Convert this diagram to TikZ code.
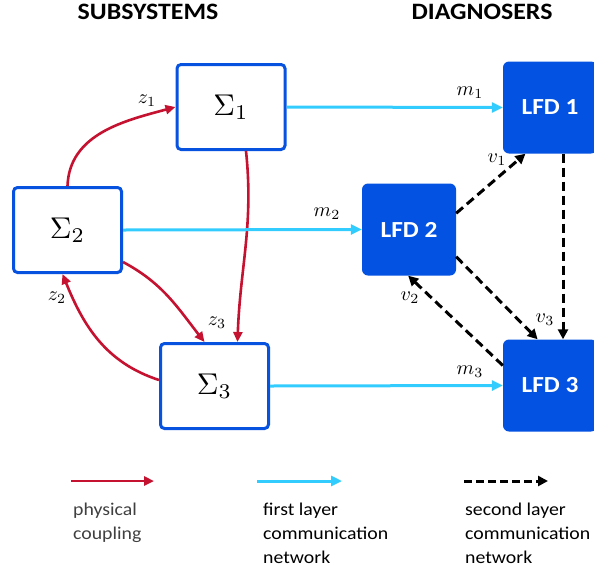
\documentclass[tikz,border=0pt]{standalone}
\usepackage{graphicx}
\usepackage{fontspec}
\setmainfont{Carlito}[FakeStretch=1.1]
\usetikzlibrary{arrows.meta,calc}

\definecolor{sysblue}{RGB}{8,82,224}
\definecolor{lfdblue}{RGB}{3,82,226}
\definecolor{netcyan}{RGB}{51,204,255}
\definecolor{couplered}{RGB}{196,18,48}
\definecolor{legendgray}{RGB}{64,64,64}

% enlarged math: subsystem names and signal labels
\newcommand\sysname[1]{\scalebox{3}{$#1$}}
\newcommand\siglabel[1]{\scalebox{2}{$#1$}}

\tikzset{
  sysbox/.style={draw=sysblue, line width=3pt, rounded corners=4pt, fill=white,
    minimum width=108pt, minimum height=85pt, inner sep=0pt,
    font=\fontsize{10}{12}\selectfont},
  lfdbox/.style={fill=lfdblue, rounded corners=6pt, minimum width=94pt,
    minimum height=92pt, inner sep=0pt, text=white,
    font=\fontsize{23}{28}\selectfont\bfseries},
  header/.style={font=\fontsize{23.5}{28}\selectfont\bfseries, inner sep=0pt},
  sig/.style={font=\fontsize{10}{12}\selectfont, inner sep=0pt},
  coupling/.style={draw=couplered, line width=2.6pt,
    -{Triangle[length=10pt,width=9pt]}},
  firstnet/.style={draw=netcyan, line width=3pt,
    -{Triangle[length=11pt,width=10pt]}},
  secondnet/.style={draw=black, line width=3pt, dash pattern=on 9pt off 5pt,
    -{Triangle[length=10pt,width=10pt]}},
  legendtext/.style={font=\fontsize{18}{24}\selectfont, align=left,
    anchor=base west, inner sep=0pt},
}

\begin{document}
\begin{tikzpicture}[x=1pt,y=1pt]
\useasboundingbox (0,0) rectangle (594,-571);

% column headers
\node[header] (hsub) at (148,-12) {SUBSYSTEMS};
\node[header] (hdiag) at (482,-12) {DIAGNOSERS};

% subsystems
\node[sysbox] (s1) at (231,-107) {\sysname{\Sigma_1}};
\node[sysbox] (s2) at (67.5,-230) {\sysname{\Sigma_2}};
\node[sysbox] (s3) at (214.5,-386) {\sysname{\Sigma_3}};

% local fault diagnosers
\node[lfdbox] (l1) at (550,-107.5) {LFD 1};
\node[lfdbox] (l2) at (409,-229.5) {LFD 2};
\node[lfdbox] (l3) at (550,-385.5) {LFD 3};

% physical coupling
\draw[coupling] (s2.north) to[out=88,in=195] (s1.west);
\draw[coupling] ([xshift=15pt]s1.south) to[out=-84,in=88] ([xshift=23pt]s3.north);
\draw[coupling] ([yshift=12pt]s2.south east) to[out=-28,in=128] ([xshift=-10pt]s3.north);
\draw[coupling] ([yshift=6pt]s3.west) to[out=162,in=-68] ([xshift=-5pt]s2.south);

\node[sig] (z1) at (147,-101) {\siglabel{z_1}};
\node[sig] (z2) at (57,-298) {\siglabel{z_2}};
\node[sig] (z3) at (217,-323) {\siglabel{z_3}};

% first layer communication
\draw[firstnet] (s1.east) -- (l1.west);
\draw[firstnet] (s2.east) -- (l2.west);
\draw[firstnet] (s3.east) -- (l3.west);

\node[sig] (m1) at (470,-93) {\siglabel{m_1}};
\node[sig] (m2) at (327,-214) {\siglabel{m_2}};
\node[sig] (m3) at (470,-372) {\siglabel{m_3}};

% second layer communication
\draw[secondnet] (l2.19) -- (l1.242);
\draw[secondnet] ([xshift=13pt]l1.south) -- ([xshift=13pt]l3.north);
\draw[secondnet] (l2.-30) -- (l3.105);
\draw[secondnet] (l3.157) -- (l2.269);

\node[sig] (v1) at (497,-160) {\siglabel{v_1}};
\node[sig] (v2) at (410,-298) {\siglabel{v_2}};
\node[sig] (v3) at (545,-320) {\siglabel{v_3}};

% legend
\coordinate (ra) at (71,-481);  \coordinate (rb) at (154,-481);
\coordinate (ca) at (257,-481); \coordinate (cb) at (342,-481);
\coordinate (da) at (464,-481); \coordinate (db) at (548,-481);
\draw[coupling, line width=2.6pt] (ra) -- (rb);
\draw[firstnet] (ca) -- (cb);
\draw[secondnet, dash pattern=on 8pt off 4pt] (da) -- (db);

% multi-line texts are placed by the baseline of their last line
\node[legendtext, text=legendgray] (t1) at (73,-539) {physical\\coupling};
\node[legendtext] (t2) at (263,-563) {first layer\\communication\\network};
\node[legendtext] (t3) at (465,-563) {second layer\\communication\\network};
\end{tikzpicture}
\end{document}
